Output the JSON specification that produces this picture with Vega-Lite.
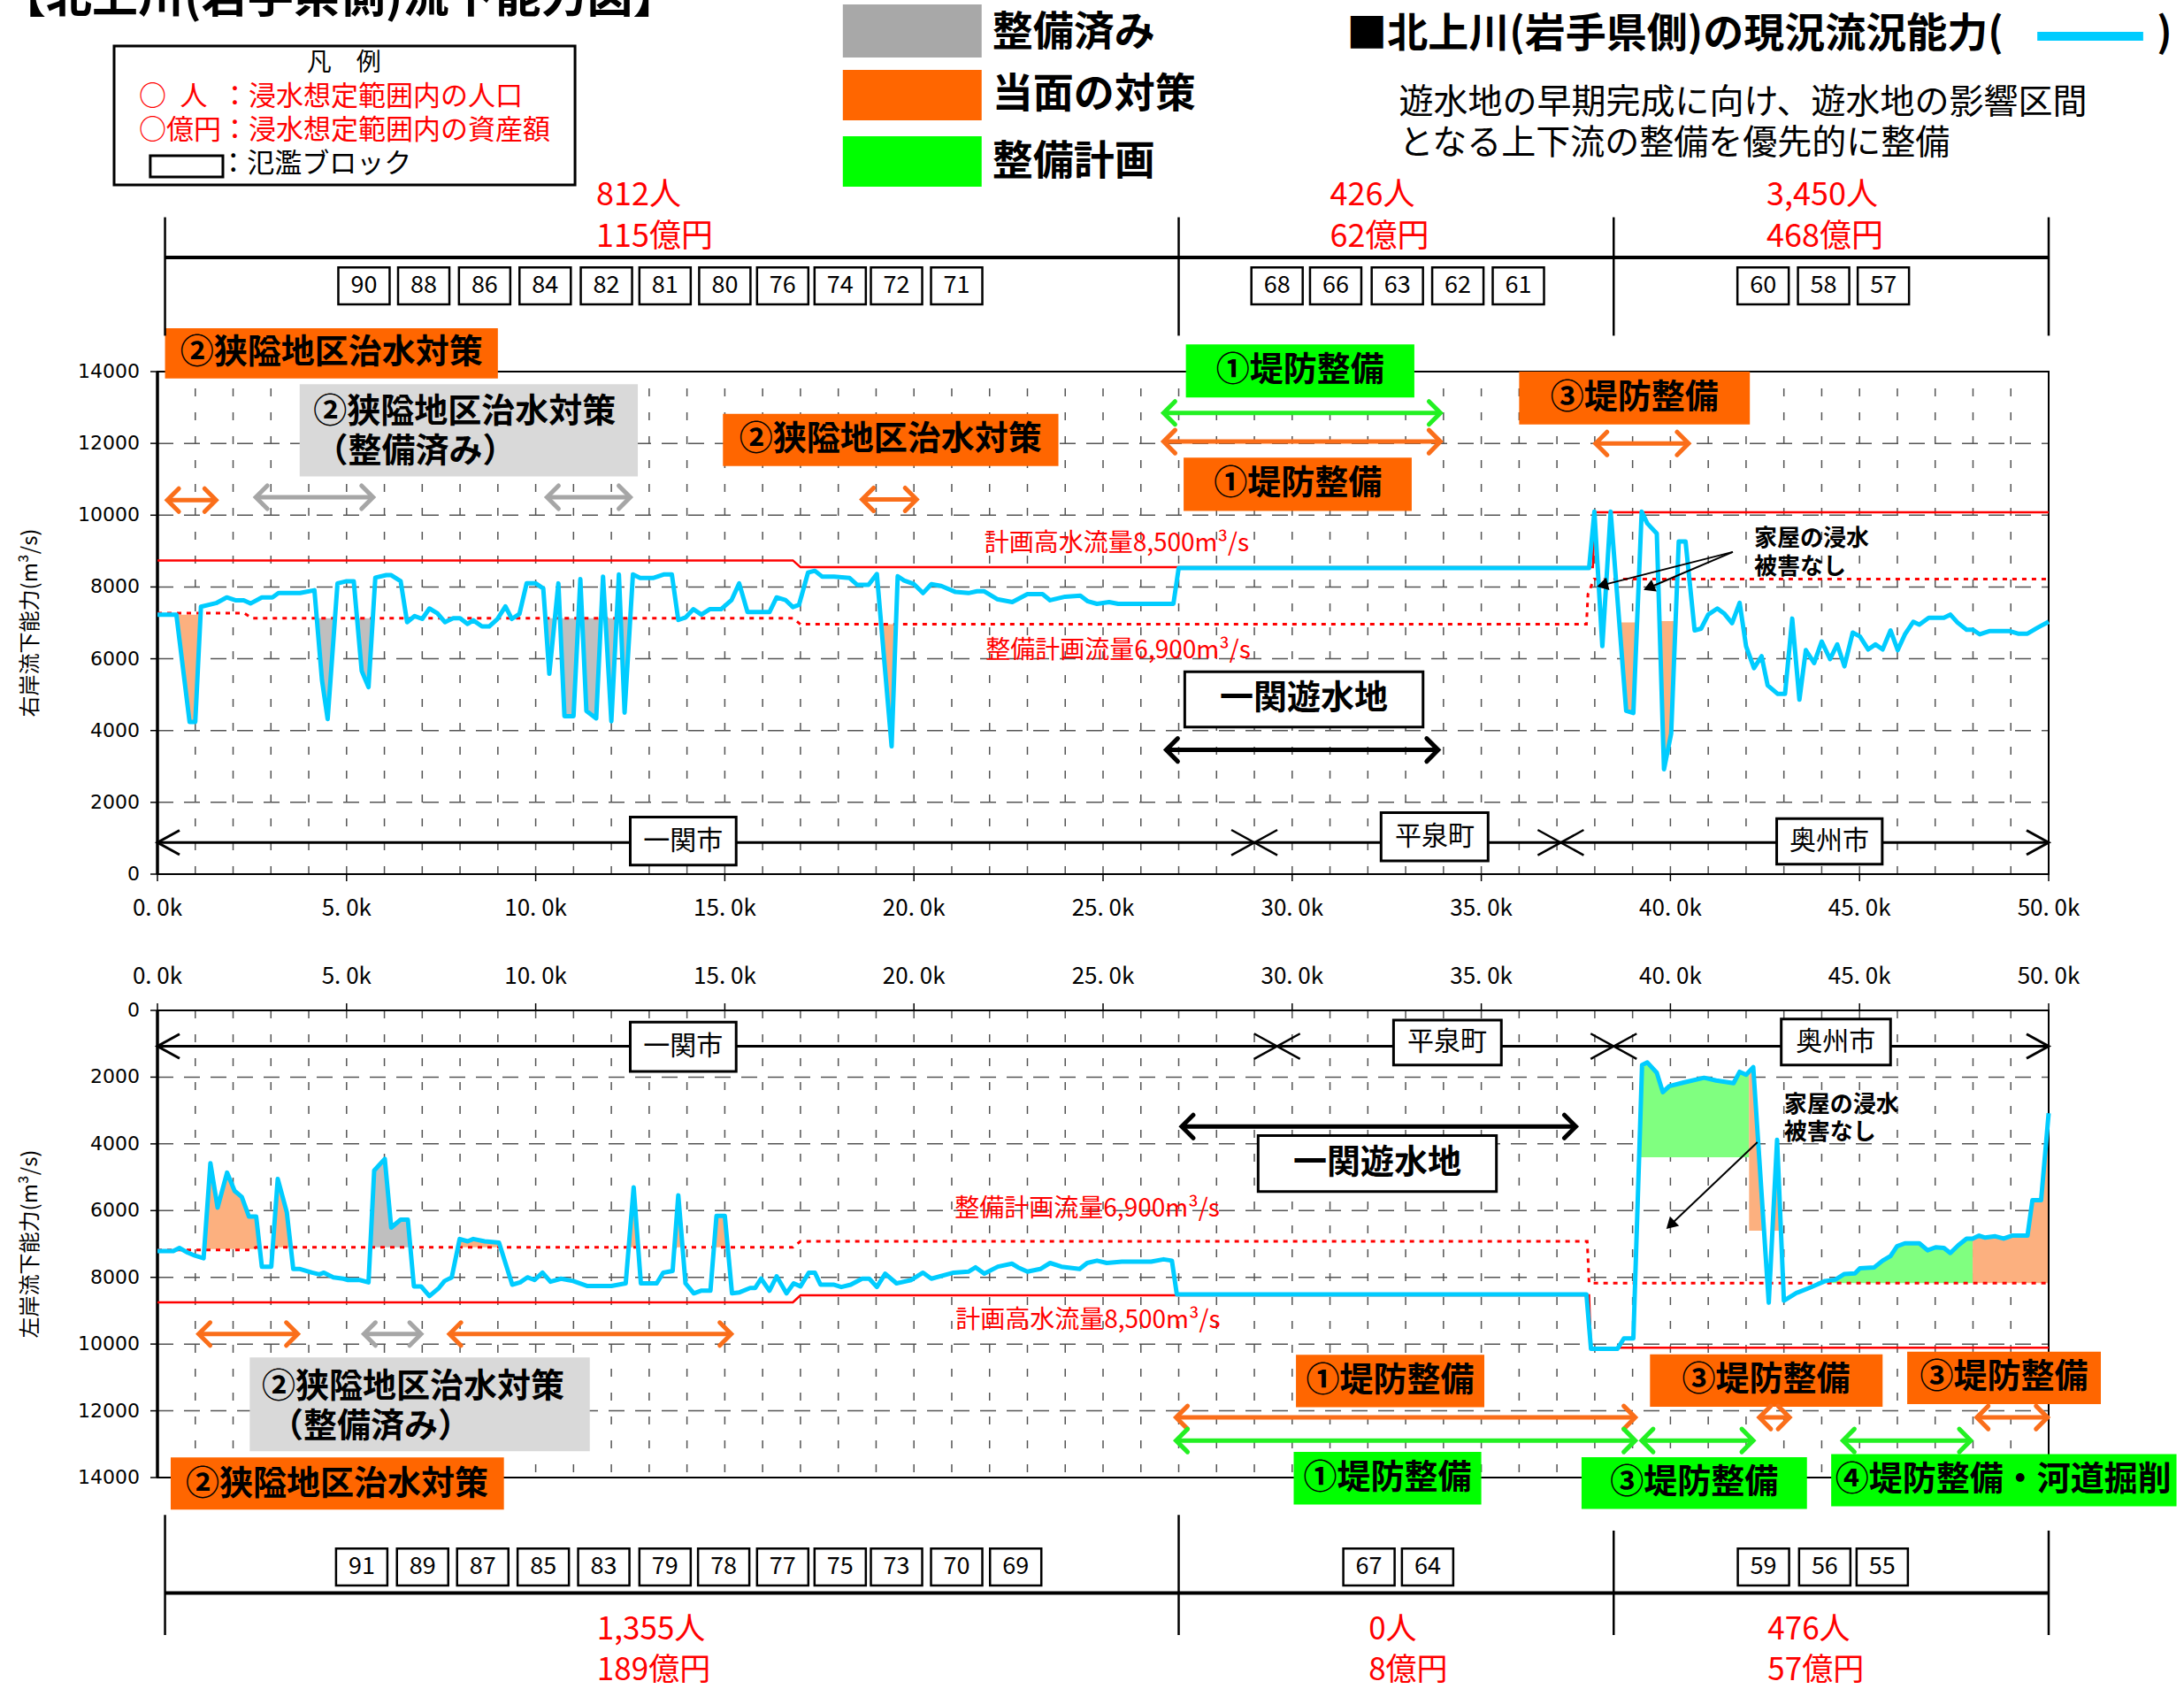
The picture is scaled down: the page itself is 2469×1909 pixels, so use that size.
{
"$schema":"https://vega.github.io/schema/vega-lite/v6.json",
"width":2469,"height":1909,
"autosize":{"type":"none"},
"padding":0,
"background":"white",
"config":{"font":"Noto Sans CJK JP","view":{"stroke":null}},
"resolve":{"scale":{"x":"independent","y":"independent"}},
"datasets":{
"frame":[{"x":0,"x2":50,"y":0,"y2":14000}],
"gx":[{"x":0,"y":0,"y2":14000},{"x":1,"y":0,"y2":14000},{"x":2,"y":0,"y2":14000},{"x":3,"y":0,"y2":14000},{"x":4,"y":0,"y2":14000},{"x":5,"y":0,"y2":14000},{"x":6,"y":0,"y2":14000},{"x":7,"y":0,"y2":14000},{"x":8,"y":0,"y2":14000},{"x":9,"y":0,"y2":14000},{"x":10,"y":0,"y2":14000},{"x":11,"y":0,"y2":14000},{"x":12,"y":0,"y2":14000},{"x":13,"y":0,"y2":14000},{"x":14,"y":0,"y2":14000},{"x":15,"y":0,"y2":14000},{"x":16,"y":0,"y2":14000},{"x":17,"y":0,"y2":14000},{"x":18,"y":0,"y2":14000},{"x":19,"y":0,"y2":14000},{"x":20,"y":0,"y2":14000},{"x":21,"y":0,"y2":14000},{"x":22,"y":0,"y2":14000},{"x":23,"y":0,"y2":14000},{"x":24,"y":0,"y2":14000},{"x":25,"y":0,"y2":14000},{"x":26,"y":0,"y2":14000},{"x":27,"y":0,"y2":14000},{"x":28,"y":0,"y2":14000},{"x":29,"y":0,"y2":14000},{"x":30,"y":0,"y2":14000},{"x":31,"y":0,"y2":14000},{"x":32,"y":0,"y2":14000},{"x":33,"y":0,"y2":14000},{"x":34,"y":0,"y2":14000},{"x":35,"y":0,"y2":14000},{"x":36,"y":0,"y2":14000},{"x":37,"y":0,"y2":14000},{"x":38,"y":0,"y2":14000},{"x":39,"y":0,"y2":14000},{"x":40,"y":0,"y2":14000},{"x":41,"y":0,"y2":14000},{"x":42,"y":0,"y2":14000},{"x":43,"y":0,"y2":14000},{"x":44,"y":0,"y2":14000},{"x":45,"y":0,"y2":14000},{"x":46,"y":0,"y2":14000},{"x":47,"y":0,"y2":14000},{"x":48,"y":0,"y2":14000},{"x":49,"y":0,"y2":14000},{"x":50,"y":0,"y2":14000}],
"gy":[{"y":0,"x":0,"x2":50},{"y":2000,"x":0,"x2":50},{"y":4000,"x":0,"x2":50},{"y":6000,"x":0,"x2":50},{"y":8000,"x":0,"x2":50},{"y":10000,"x":0,"x2":50},{"y":12000,"x":0,"x2":50},{"y":14000,"x":0,"x2":50}],
"xl":[{"x":0,"y":0,"t":"0. 0k"},{"x":5,"y":0,"t":"5. 0k"},{"x":10,"y":0,"t":"10. 0k"},{"x":15,"y":0,"t":"15. 0k"},{"x":20,"y":0,"t":"20. 0k"},{"x":25,"y":0,"t":"25. 0k"},{"x":30,"y":0,"t":"30. 0k"},{"x":35,"y":0,"t":"35. 0k"},{"x":40,"y":0,"t":"40. 0k"},{"x":45,"y":0,"t":"45. 0k"},{"x":50,"y":0,"t":"50. 0k"}],
"ytitle_top":[{"x":-3.34,"y":7000,"t":"右岸流下能力(m³/s)"}],
"ytitle_bot":[{"x":-3.34,"y":7000,"t":"左岸流下能力(m³/s)"}],
"line_top":[{"x":0,"y":7230},{"x":0.5,"y":7230},{"x":0.85,"y":4240},{"x":1.0,"y":4240},{"x":1.15,"y":7450},{"x":1.55,"y":7550},{"x":1.83,"y":7710},{"x":2.06,"y":7630},{"x":2.28,"y":7630},{"x":2.46,"y":7540},{"x":2.76,"y":7710},{"x":3.04,"y":7710},{"x":3.2,"y":7830},{"x":3.77,"y":7830},{"x":4.15,"y":7910},{"x":4.35,"y":5400},{"x":4.5,"y":4320},{"x":4.76,"y":8100},{"x":5.0,"y":8160},{"x":5.19,"y":8160},{"x":5.4,"y":5660},{"x":5.58,"y":5210},{"x":5.76,"y":8260},{"x":6.05,"y":8330},{"x":6.18,"y":8330},{"x":6.43,"y":8160},{"x":6.6,"y":7020},{"x":6.8,"y":7190},{"x":7.0,"y":7110},{"x":7.19,"y":7400},{"x":7.4,"y":7270},{"x":7.6,"y":7020},{"x":7.82,"y":7130},{"x":8.0,"y":7130},{"x":8.2,"y":6970},{"x":8.35,"y":7070},{"x":8.58,"y":6900},{"x":8.77,"y":6900},{"x":8.99,"y":7110},{"x":9.2,"y":7460},{"x":9.37,"y":7110},{"x":9.57,"y":7250},{"x":9.76,"y":8100},{"x":10.0,"y":8100},{"x":10.2,"y":7960},{"x":10.36,"y":5580},{"x":10.6,"y":8100},{"x":10.76,"y":4400},{"x":11.0,"y":4400},{"x":11.18,"y":8220},{"x":11.34,"y":4550},{"x":11.6,"y":4340},{"x":11.78,"y":8290},{"x":12.0,"y":4260},{"x":12.2,"y":8350},{"x":12.35,"y":4500},{"x":12.57,"y":8350},{"x":12.76,"y":8250},{"x":13.1,"y":8250},{"x":13.4,"y":8350},{"x":13.6,"y":8350},{"x":13.77,"y":7080},{"x":13.96,"y":7150},{"x":14.17,"y":7380},{"x":14.38,"y":7230},{"x":14.6,"y":7380},{"x":14.9,"y":7380},{"x":15.18,"y":7640},{"x":15.38,"y":8100},{"x":15.6,"y":7300},{"x":16.18,"y":7300},{"x":16.37,"y":7710},{"x":16.6,"y":7640},{"x":16.8,"y":7440},{"x":16.96,"y":7500},{"x":17.2,"y":8400},{"x":17.38,"y":8450},{"x":17.57,"y":8290},{"x":17.89,"y":8290},{"x":18.3,"y":8250},{"x":18.5,"y":8060},{"x":18.8,"y":8060},{"x":19.02,"y":8360},{"x":19.41,"y":3560},{"x":19.57,"y":8300},{"x":19.74,"y":8180},{"x":20.0,"y":8080},{"x":20.24,"y":7830},{"x":20.46,"y":8080},{"x":20.72,"y":8030},{"x":21.1,"y":7860},{"x":21.44,"y":7830},{"x":21.67,"y":7880},{"x":21.86,"y":7880},{"x":22.2,"y":7660},{"x":22.6,"y":7580},{"x":23.0,"y":7800},{"x":23.4,"y":7800},{"x":23.6,"y":7630},{"x":24.0,"y":7730},{"x":24.4,"y":7760},{"x":24.6,"y":7600},{"x":24.84,"y":7530},{"x":25.16,"y":7580},{"x":25.4,"y":7530},{"x":26.86,"y":7530},{"x":27.0,"y":8530},{"x":37.85,"y":8530},{"x":37.99,"y":10100},{"x":38.2,"y":6350},{"x":38.42,"y":10100},{"x":38.83,"y":4550},{"x":39.02,"y":4490},{"x":39.24,"y":10100},{"x":39.39,"y":9770},{"x":39.64,"y":9490},{"x":39.83,"y":2920},{"x":40.02,"y":3920},{"x":40.22,"y":9270},{"x":40.4,"y":9270},{"x":40.64,"y":6790},{"x":40.81,"y":6840},{"x":41.0,"y":7230},{"x":41.24,"y":7400},{"x":41.43,"y":7250},{"x":41.63,"y":6990},{"x":41.83,"y":7560},{"x":42.0,"y":6350},{"x":42.21,"y":5740},{"x":42.41,"y":6070},{"x":42.57,"y":5260},{"x":42.84,"y":5020},{"x":43.03,"y":5020},{"x":43.22,"y":7120},{"x":43.41,"y":4860},{"x":43.58,"y":6240},{"x":43.8,"y":5880},{"x":44.0,"y":6480},{"x":44.22,"y":5990},{"x":44.41,"y":6400},{"x":44.6,"y":5790},{"x":44.82,"y":6730},{"x":45.01,"y":6620},{"x":45.23,"y":6260},{"x":45.42,"y":6400},{"x":45.61,"y":6260},{"x":45.82,"y":6790},{"x":46.01,"y":6240},{"x":46.2,"y":6680},{"x":46.42,"y":7030},{"x":46.58,"y":6950},{"x":46.83,"y":7140},{"x":47.23,"y":7140},{"x":47.4,"y":7230},{"x":47.59,"y":7010},{"x":47.83,"y":6810},{"x":47.99,"y":6810},{"x":48.18,"y":6680},{"x":48.43,"y":6770},{"x":48.97,"y":6770},{"x":49.19,"y":6700},{"x":49.44,"y":6700},{"x":49.73,"y":6880},{"x":50.0,"y":7030}],
"plan_top":[{"x":0,"y":8740},{"x":16.8,"y":8740},{"x":17.0,"y":8550},{"x":37.95,"y":8550},{"x":38.0,"y":10080},{"x":50,"y":10080}],
"dot_top":[{"x":0,"y":7270},{"x":2.3,"y":7270},{"x":2.5,"y":7130},{"x":16.8,"y":7130},{"x":17.0,"y":6960},{"x":37.78,"y":6960},{"x":37.82,"y":7800},{"x":37.98,"y":8220},{"x":50,"y":8220}],
"fill_top":[
{"g":"t1","c":"当面の対策","x":0.5,"y":7230,"y2":7230},{"g":"t1","c":"当面の対策","x":0.85,"y":4240,"y2":7230},{"g":"t1","c":"当面の対策","x":1.0,"y":4240,"y2":7230},{"g":"t1","c":"当面の対策","x":1.14,"y":7230,"y2":7230},
{"g":"t2","c":"整備済み","x":4.21,"y":7130,"y2":7130},{"g":"t2","c":"整備済み","x":4.35,"y":5400,"y2":7130},{"g":"t2","c":"整備済み","x":4.5,"y":4320,"y2":7130},{"g":"t2","c":"整備済み","x":4.69,"y":7130,"y2":7130},
{"g":"t3","c":"整備済み","x":5.28,"y":7130,"y2":7130},{"g":"t3","c":"整備済み","x":5.4,"y":5660,"y2":7130},{"g":"t3","c":"整備済み","x":5.58,"y":5210,"y2":7130},{"g":"t3","c":"整備済み","x":5.69,"y":7130,"y2":7130},
{"g":"t4","c":"整備済み","x":10.26,"y":7130,"y2":7130},{"g":"t4","c":"整備済み","x":10.36,"y":5580,"y2":7130},{"g":"t4","c":"整備済み","x":10.51,"y":7130,"y2":7130},{"g":"t4","c":"整備済み","x":10.64,"y":7130,"y2":7130},{"g":"t4","c":"整備済み","x":10.76,"y":4400,"y2":7130},{"g":"t4","c":"整備済み","x":11.0,"y":4400,"y2":7130},{"g":"t4","c":"整備済み","x":11.13,"y":7130,"y2":7130},{"g":"t4","c":"整備済み","x":11.23,"y":7130,"y2":7130},{"g":"t4","c":"整備済み","x":11.34,"y":4550,"y2":7130},{"g":"t4","c":"整備済み","x":11.6,"y":4340,"y2":7130},{"g":"t4","c":"整備済み","x":11.73,"y":7130,"y2":7130},{"g":"t4","c":"整備済み","x":11.84,"y":7130,"y2":7130},{"g":"t4","c":"整備済み","x":12.0,"y":4260,"y2":7130},{"g":"t4","c":"整備済み","x":12.14,"y":7130,"y2":7130},{"g":"t4","c":"整備済み","x":12.25,"y":7130,"y2":7130},{"g":"t4","c":"整備済み","x":12.35,"y":4500,"y2":7130},{"g":"t4","c":"整備済み","x":12.5,"y":7130,"y2":7130},
{"g":"t5","c":"当面の対策","x":19.13,"y":6960,"y2":6960},{"g":"t5","c":"当面の対策","x":19.41,"y":3560,"y2":6960},{"g":"t5","c":"当面の対策","x":19.52,"y":6960,"y2":6960},
{"g":"t6","c":"当面の対策","x":38.65,"y":7010,"y2":7010},{"g":"t6","c":"当面の対策","x":38.83,"y":4550,"y2":7010},{"g":"t6","c":"当面の対策","x":39.02,"y":4490,"y2":7010},{"g":"t6","c":"当面の対策","x":39.12,"y":7010,"y2":7010},
{"g":"t7","c":"当面の対策","x":39.71,"y":7050,"y2":7050},{"g":"t7","c":"当面の対策","x":39.83,"y":2920,"y2":7050},{"g":"t7","c":"当面の対策","x":40.02,"y":3920,"y2":7050},{"g":"t7","c":"当面の対策","x":40.14,"y":7050,"y2":7050}],
"muni_top":[{"x":0,"x2":50,"y":880}],
"xmark_top":[{"x":29.0,"y":880},{"x":37.1,"y":880}],
"wbox_top":[{"x":27.16,"x2":33.46,"y":4100,"y2":5640},{"x":12.5,"x2":15.3,"y":250,"y2":1590},{"x":32.35,"x2":35.18,"y":370,"y2":1710},{"x":42.81,"x2":45.6,"y":275,"y2":1545},{"x":-1.146,"x2":11.04,"y":19201,"y2":23071},{"x":-0.19,"x2":1.73,"y":19423,"y2":20014}],
"cbox_top":[{"c":"当面の対策枠","x":0.2,"x2":9.0,"y":13810,"y2":15210},{"c":"整備済み枠","x":3.76,"x2":12.7,"y":11080,"y2":13650},{"c":"当面の対策枠","x":14.95,"x2":23.82,"y":11370,"y2":12820},{"c":"整備計画枠","x":27.19,"x2":33.23,"y":13280,"y2":14760},{"c":"当面の対策枠","x":27.13,"x2":33.16,"y":10120,"y2":11600},{"c":"当面の対策枠","x":36.0,"x2":42.1,"y":12530,"y2":14000},{"c":"整備済み凡例","x":18.12,"x2":21.79,"y":22750,"y2":24229},{"c":"当面の対策凡例","x":18.12,"x2":21.79,"y":21000,"y2":22405},{"c":"整備計画凡例","x":18.12,"x2":21.79,"y":19152,"y2":20556}],
"arrow_top":[{"c":"当面の対策矢印","x":0.26,"x2":1.55,"y":10420},{"c":"整備済み矢印","x":2.6,"x2":5.7,"y":10500},{"c":"整備済み矢印","x":10.3,"x2":12.5,"y":10500},{"c":"当面の対策矢印","x":18.63,"x2":20.07,"y":10440},{"c":"整備計画矢印","x":26.6,"x2":33.92,"y":12850},{"c":"当面の対策矢印","x":26.6,"x2":33.92,"y":12050},{"c":"当面の対策矢印","x":38.02,"x2":40.48,"y":12000},{"c":"遊水地矢印","x":26.67,"x2":33.86,"y":3460}],
"ptr_top":[{"id":1,"x":41.65,"y":8975,"x2":38.2,"y2":8050},{"id":2,"x":41.65,"y":8975,"x2":39.43,"y2":7980}],
"btxt_top":[{"x":4.6,"y":14510,"t":"②狭隘地区治水対策"},{"x":19.38,"y":12095,"t":"②狭隘地区治水対策"},{"x":30.21,"y":14020,"t":"①堤防整備"},{"x":30.15,"y":10860,"t":"①堤防整備"},{"x":39.05,"y":13265,"t":"③堤防整備"},{"x":30.31,"y":4870,"t":"一関遊水地"}],
"gtxt_top":[{"x":4.12,"y":12875,"t":"②狭隘地区治水対策"},{"x":4.15,"y":11746,"t":"（整備済み）"}],
"mtxt_top":[{"x":13.9,"y":920,"t":"一関市"},{"x":33.77,"y":1040,"t":"平泉町"},{"x":44.2,"y":910,"t":"奥州市"}],
"rtxt_top":[{"x":25.36,"y":9190,"t":"計画高水流量8,500m³/s"},{"x":25.4,"y":6220,"t":"整備計画流量6,900m³/s"}],
"kaoku_top":[{"x":42.21,"y":9330,"t":"家屋の浸水"},{"x":42.21,"y":8550,"t":"被害なし"}],
"hv_top":[{"x":0.2,"y":15000,"y2":18300},{"x":27.0,"y":15000,"y2":18300},{"x":38.5,"y":15000,"y2":18300},{"x":50.0,"y":15000,"y2":18300}],
"hh_top":[{"x":0.2,"x2":50,"y":17180}],
"blk_top":[{"x":5.46,"y":16390,"t":"90"},{"x":7.04,"y":16390,"t":"88"},{"x":8.65,"y":16390,"t":"86"},{"x":10.25,"y":16390,"t":"84"},{"x":11.87,"y":16390,"t":"82"},{"x":13.42,"y":16390,"t":"81"},{"x":15.0,"y":16390,"t":"80"},{"x":16.53,"y":16390,"t":"76"},{"x":18.05,"y":16390,"t":"74"},{"x":19.54,"y":16390,"t":"72"},{"x":21.13,"y":16390,"t":"71"},{"x":29.6,"y":16390,"t":"68"},{"x":31.15,"y":16390,"t":"66"},{"x":32.78,"y":16390,"t":"63"},{"x":34.38,"y":16390,"t":"62"},{"x":35.98,"y":16390,"t":"61"},{"x":42.45,"y":16390,"t":"60"},{"x":44.05,"y":16390,"t":"58"},{"x":45.63,"y":16390,"t":"57"}],
"pop_top":[{"x":11.6,"y":18905,"t":"812人"},{"x":11.6,"y":17747,"t":"115億円"},{"x":31.0,"y":18905,"t":"426人"},{"x":31.0,"y":17747,"t":"62億円"},{"x":42.54,"y":18905,"t":"3,450人"},{"x":42.54,"y":17747,"t":"468億円"}],
"lgd_center":[{"x":4.93,"y":22578,"t":"凡　例"}],
"lgd_red":[{"x":-0.49,"y":21641,"t":"○\u2002人\u2002：浸水想定範囲内の人口"},{"x":-0.49,"y":20704,"t":"○億円：浸水想定範囲内の資産額"}],
"lgd_black":[{"x":1.64,"y":19768,"t":"：氾濫ブロック"}],
"lgd_labels":[{"x":22.07,"y":23440,"t":"整備済み"},{"x":22.07,"y":21715,"t":"当面の対策"},{"x":22.07,"y":19840,"t":"整備計画"}],
"title":[{"x":-4.16,"y":24008,"t":"【北上川(岩手県側)流下能力図】"}],
"genkyo":[{"x":31.44,"y":23391,"t":"■北上川(岩手県側)の現況流況能力("},{"x":52.86,"y":23391,"t":")"}],
"cyan":[{"x":49.7,"x2":52.5,"y":23342}],
"desc":[{"x":32.82,"y":21493,"t":"遊水地の早期完成に向け、遊水地の影響区間"},{"x":32.82,"y":20360,"t":"となる上下流の整備を優先的に整備"}],
"line_bot":[{"x":0,"y":7210},{"x":0.42,"y":7210},{"x":0.58,"y":7120},{"x":0.8,"y":7260},{"x":0.99,"y":7350},{"x":1.22,"y":7430},{"x":1.4,"y":4580},{"x":1.59,"y":5910},{"x":1.84,"y":4860},{"x":2.04,"y":5410},{"x":2.23,"y":5590},{"x":2.42,"y":6180},{"x":2.61,"y":6180},{"x":2.76,"y":7680},{"x":3.01,"y":7680},{"x":3.18,"y":5050},{"x":3.42,"y":6050},{"x":3.59,"y":7750},{"x":3.77,"y":7750},{"x":4.09,"y":7860},{"x":4.28,"y":7910},{"x":4.4,"y":7860},{"x":4.65,"y":8000},{"x":4.91,"y":8040},{"x":5.04,"y":8080},{"x":5.35,"y":8080},{"x":5.58,"y":8150},{"x":5.73,"y":4800},{"x":6.01,"y":4450},{"x":6.18,"y":6510},{"x":6.43,"y":6270},{"x":6.62,"y":6270},{"x":6.78,"y":8270},{"x":6.97,"y":8270},{"x":7.19,"y":8560},{"x":7.44,"y":8320},{"x":7.59,"y":8110},{"x":7.78,"y":8000},{"x":7.99,"y":6850},{"x":8.2,"y":6920},{"x":8.35,"y":6850},{"x":8.65,"y":6920},{"x":9.03,"y":6960},{"x":9.38,"y":8220},{"x":9.59,"y":8150},{"x":9.78,"y":8000},{"x":9.97,"y":8080},{"x":10.18,"y":7860},{"x":10.39,"y":8130},{"x":10.67,"y":8040},{"x":10.99,"y":8110},{"x":11.37,"y":8260},{"x":12.0,"y":8260},{"x":12.38,"y":8180},{"x":12.59,"y":5300},{"x":12.78,"y":8180},{"x":13.2,"y":8180},{"x":13.37,"y":7860},{"x":13.62,"y":7810},{"x":13.77,"y":5540},{"x":13.96,"y":8180},{"x":14.18,"y":8480},{"x":14.37,"y":8400},{"x":14.62,"y":8400},{"x":14.78,"y":6160},{"x":15.0,"y":6160},{"x":15.19,"y":8480},{"x":15.39,"y":8450},{"x":15.67,"y":8320},{"x":15.8,"y":8320},{"x":15.96,"y":8040},{"x":16.18,"y":8400},{"x":16.37,"y":7970},{"x":16.63,"y":8480},{"x":16.82,"y":8180},{"x":17.0,"y":8270},{"x":17.22,"y":7860},{"x":17.38,"y":7860},{"x":17.53,"y":8220},{"x":17.89,"y":8220},{"x":18.08,"y":8290},{"x":18.33,"y":8220},{"x":18.63,"y":8040},{"x":18.82,"y":8040},{"x":19.02,"y":8290},{"x":19.24,"y":7890},{"x":19.54,"y":8180},{"x":19.93,"y":8080},{"x":20.24,"y":7860},{"x":20.46,"y":8040},{"x":21.05,"y":7860},{"x":21.44,"y":7830},{"x":21.63,"y":7700},{"x":21.86,"y":7890},{"x":22.22,"y":7680},{"x":22.59,"y":7590},{"x":22.75,"y":7700},{"x":23.0,"y":7830},{"x":23.34,"y":7750},{"x":23.6,"y":7570},{"x":23.9,"y":7680},{"x":24.38,"y":7750},{"x":24.58,"y":7570},{"x":24.84,"y":7500},{"x":25.1,"y":7570},{"x":25.5,"y":7530},{"x":26.27,"y":7530},{"x":26.6,"y":7460},{"x":26.82,"y":7500},{"x":26.95,"y":8510},{"x":37.78,"y":8510},{"x":37.9,"y":10140},{"x":38.6,"y":10140},{"x":38.77,"y":9830},{"x":39.02,"y":9830},{"x":39.25,"y":1640},{"x":39.39,"y":1560},{"x":39.64,"y":1870},{"x":39.8,"y":2450},{"x":39.97,"y":2270},{"x":40.35,"y":2160},{"x":40.89,"y":2020},{"x":41.21,"y":2100},{"x":41.67,"y":2180},{"x":41.83,"y":1840},{"x":42.0,"y":1930},{"x":42.19,"y":1700},{"x":42.6,"y":8760},{"x":42.82,"y":3880},{"x":43.0,"y":8700},{"x":43.33,"y":8470},{"x":43.71,"y":8300},{"x":44.09,"y":8110},{"x":44.36,"y":8070},{"x":44.6,"y":7900},{"x":44.88,"y":7880},{"x":45.01,"y":7730},{"x":45.39,"y":7700},{"x":45.61,"y":7500},{"x":45.82,"y":7360},{"x":45.99,"y":7070},{"x":46.2,"y":6980},{"x":46.58,"y":6980},{"x":46.8,"y":7190},{"x":47.01,"y":7100},{"x":47.23,"y":7120},{"x":47.4,"y":7270},{"x":47.61,"y":7040},{"x":47.83,"y":6840},{"x":47.99,"y":6840},{"x":48.16,"y":6750},{"x":48.32,"y":6810},{"x":48.59,"y":6770},{"x":48.81,"y":6840},{"x":49.03,"y":6750},{"x":49.44,"y":6750},{"x":49.57,"y":5690},{"x":49.8,"y":5690},{"x":50.0,"y":3080}],
"plan_bot":[{"x":0,"y":8750},{"x":16.8,"y":8750},{"x":17.0,"y":8540},{"x":37.85,"y":8540},{"x":37.9,"y":10110},{"x":50,"y":10110}],
"dot_bot":[{"x":0,"y":7180},{"x":2.5,"y":7180},{"x":2.6,"y":7100},{"x":16.8,"y":7100},{"x":17.0,"y":6920},{"x":37.8,"y":6920},{"x":37.85,"y":8170},{"x":50,"y":8170}],
"fill_bot":[
{"g":"b1","c":"当面の対策","x":1.24,"y":7150,"y2":7150},{"g":"b1","c":"当面の対策","x":1.4,"y":4580,"y2":7150},{"g":"b1","c":"当面の対策","x":1.59,"y":5910,"y2":7150},{"g":"b1","c":"当面の対策","x":1.84,"y":4860,"y2":7150},{"g":"b1","c":"当面の対策","x":2.04,"y":5410,"y2":7150},{"g":"b1","c":"当面の対策","x":2.23,"y":5590,"y2":7150},{"g":"b1","c":"当面の対策","x":2.42,"y":6180,"y2":7150},{"g":"b1","c":"当面の対策","x":2.61,"y":6180,"y2":7150},{"g":"b1","c":"当面の対策","x":2.7,"y":7150,"y2":7150},
{"g":"b2","c":"当面の対策","x":3.05,"y":7100,"y2":7100},{"g":"b2","c":"当面の対策","x":3.18,"y":5050,"y2":7100},{"g":"b2","c":"当面の対策","x":3.42,"y":6050,"y2":7100},{"g":"b2","c":"当面の対策","x":3.52,"y":7100,"y2":7100},
{"g":"b3","c":"整備済み","x":5.63,"y":7100,"y2":7100},{"g":"b3","c":"整備済み","x":5.73,"y":4800,"y2":7100},{"g":"b3","c":"整備済み","x":6.01,"y":4450,"y2":7100},{"g":"b3","c":"整備済み","x":6.18,"y":6510,"y2":7100},{"g":"b3","c":"整備済み","x":6.43,"y":6270,"y2":7100},{"g":"b3","c":"整備済み","x":6.62,"y":6270,"y2":7100},{"g":"b3","c":"整備済み","x":6.69,"y":7100,"y2":7100},
{"g":"b4","c":"当面の対策","x":7.94,"y":7100,"y2":7100},{"g":"b4","c":"当面の対策","x":7.99,"y":6850,"y2":7100},{"g":"b4","c":"当面の対策","x":8.2,"y":6920,"y2":7100},{"g":"b4","c":"当面の対策","x":8.35,"y":6850,"y2":7100},{"g":"b4","c":"当面の対策","x":8.65,"y":6920,"y2":7100},{"g":"b4","c":"当面の対策","x":9.03,"y":6960,"y2":7100},{"g":"b4","c":"当面の対策","x":9.08,"y":7100,"y2":7100},
{"g":"b5","c":"当面の対策","x":12.46,"y":7100,"y2":7100},{"g":"b5","c":"当面の対策","x":12.59,"y":5300,"y2":7100},{"g":"b5","c":"当面の対策","x":12.71,"y":7100,"y2":7100},
{"g":"b6","c":"当面の対策","x":13.67,"y":7100,"y2":7100},{"g":"b6","c":"当面の対策","x":13.77,"y":5540,"y2":7100},{"g":"b6","c":"当面の対策","x":13.88,"y":7100,"y2":7100},
{"g":"b7","c":"当面の対策","x":14.71,"y":7100,"y2":7100},{"g":"b7","c":"当面の対策","x":14.78,"y":6160,"y2":7100},{"g":"b7","c":"当面の対策","x":15.0,"y":6160,"y2":7100},{"g":"b7","c":"当面の対策","x":15.08,"y":7100,"y2":7100},
{"g":"b8","c":"整備計画","x":39.18,"y":4400,"y2":4400},{"g":"b8","c":"整備計画","x":39.25,"y":1640,"y2":4400},{"g":"b8","c":"整備計画","x":39.39,"y":1560,"y2":4400},{"g":"b8","c":"整備計画","x":39.64,"y":1870,"y2":4400},{"g":"b8","c":"整備計画","x":39.8,"y":2450,"y2":4400},{"g":"b8","c":"整備計画","x":39.97,"y":2270,"y2":4400},{"g":"b8","c":"整備計画","x":40.35,"y":2160,"y2":4400},{"g":"b8","c":"整備計画","x":40.89,"y":2020,"y2":4400},{"g":"b8","c":"整備計画","x":41.21,"y":2100,"y2":4400},{"g":"b8","c":"整備計画","x":41.67,"y":2180,"y2":4400},{"g":"b8","c":"整備計画","x":41.83,"y":1840,"y2":4400},{"g":"b8","c":"整備計画","x":42.0,"y":1930,"y2":4400},{"g":"b8","c":"整備計画","x":42.08,"y":1830,"y2":4400},
{"g":"b9","c":"当面の対策","x":42.08,"y":1830,"y2":6600},{"g":"b9","c":"当面の対策","x":42.19,"y":1700,"y2":6600},{"g":"b9","c":"当面の対策","x":42.47,"y":6600,"y2":6600},
{"g":"b10","c":"当面の対策","x":42.7,"y":6600,"y2":6600},{"g":"b10","c":"当面の対策","x":42.82,"y":3880,"y2":6600},{"g":"b10","c":"当面の対策","x":42.92,"y":6600,"y2":6600},
{"g":"b11","c":"整備計画","x":43.95,"y":8170,"y2":8170},{"g":"b11","c":"整備計画","x":44.09,"y":8110,"y2":8170},{"g":"b11","c":"整備計画","x":44.36,"y":8070,"y2":8170},{"g":"b11","c":"整備計画","x":44.6,"y":7900,"y2":8170},{"g":"b11","c":"整備計画","x":44.88,"y":7880,"y2":8170},{"g":"b11","c":"整備計画","x":45.01,"y":7730,"y2":8170},{"g":"b11","c":"整備計画","x":45.39,"y":7700,"y2":8170},{"g":"b11","c":"整備計画","x":45.61,"y":7500,"y2":8170},{"g":"b11","c":"整備計画","x":45.82,"y":7360,"y2":8170},{"g":"b11","c":"整備計画","x":45.99,"y":7070,"y2":8170},{"g":"b11","c":"整備計画","x":46.2,"y":6980,"y2":8170},{"g":"b11","c":"整備計画","x":46.58,"y":6980,"y2":8170},{"g":"b11","c":"整備計画","x":46.8,"y":7190,"y2":8170},{"g":"b11","c":"整備計画","x":47.01,"y":7100,"y2":8170},{"g":"b11","c":"整備計画","x":47.23,"y":7120,"y2":8170},{"g":"b11","c":"整備計画","x":47.4,"y":7270,"y2":8170},{"g":"b11","c":"整備計画","x":47.61,"y":7040,"y2":8170},{"g":"b11","c":"整備計画","x":47.83,"y":6840,"y2":8170},{"g":"b11","c":"整備計画","x":47.99,"y":6840,"y2":8170},
{"g":"b12","c":"当面の対策","x":47.99,"y":6840,"y2":8170},{"g":"b12","c":"当面の対策","x":48.16,"y":6750,"y2":8170},{"g":"b12","c":"当面の対策","x":48.32,"y":6810,"y2":8170},{"g":"b12","c":"当面の対策","x":48.59,"y":6770,"y2":8170},{"g":"b12","c":"当面の対策","x":48.81,"y":6840,"y2":8170},{"g":"b12","c":"当面の対策","x":49.03,"y":6750,"y2":8170},{"g":"b12","c":"当面の対策","x":49.44,"y":6750,"y2":8170},{"g":"b12","c":"当面の対策","x":49.57,"y":5690,"y2":8170},{"g":"b12","c":"当面の対策","x":49.8,"y":5690,"y2":8170},{"g":"b12","c":"当面の対策","x":50.0,"y":3080,"y2":8170}],
"muni_bot":[{"x":0,"x2":50,"y":1075}],
"xmark_bot":[{"x":29.6,"y":1075},{"x":38.5,"y":1075}],
"wbox_bot":[{"x":29.1,"x2":35.4,"y":3750,"y2":5430},{"x":12.5,"x2":15.3,"y":350,"y2":1830},{"x":32.68,"x2":35.53,"y":290,"y2":1640},{"x":42.93,"x2":45.82,"y":260,"y2":1640}],
"cbox_bot":[{"c":"整備済み枠","x":2.44,"x2":11.43,"y":10400,"y2":13210},{"c":"当面の対策枠","x":0.35,"x2":9.16,"y":13400,"y2":14960},{"c":"当面の対策枠","x":30.1,"x2":35.08,"y":10320,"y2":11890},{"c":"整備計画枠","x":30.04,"x2":35.0,"y":13230,"y2":14810},{"c":"当面の対策枠","x":39.46,"x2":45.61,"y":10310,"y2":11880},{"c":"当面の対策枠","x":46.26,"x2":51.38,"y":10230,"y2":11800},{"c":"整備計画枠","x":37.65,"x2":43.61,"y":13390,"y2":14940},{"c":"整備計画枠","x":44.25,"x2":53.38,"y":13300,"y2":14860}],
"arrow_bot":[{"c":"当面の対策矢印","x":1.09,"x2":3.71,"y":9700},{"c":"整備済み矢印","x":5.46,"x2":6.97,"y":9700},{"c":"当面の対策矢印","x":7.72,"x2":15.17,"y":9700},{"c":"遊水地矢印","x":27.08,"x2":37.5,"y":3480},{"c":"当面の対策矢印","x":26.93,"x2":39.07,"y":12200},{"c":"整備計画矢印","x":26.93,"x2":39.07,"y":12890},{"c":"整備計画矢印","x":39.24,"x2":42.19,"y":12890},{"c":"当面の対策矢印","x":42.35,"x2":43.15,"y":12200},{"c":"整備計画矢印","x":44.56,"x2":47.94,"y":12890},{"c":"当面の対策矢印","x":48.1,"x2":49.97,"y":12200}],
"ptr_bot":[{"id":1,"x":42.3,"y":3950,"x2":40.0,"y2":6430}],
"btxt_bot":[{"x":4.75,"y":14200,"t":"②狭隘地区治水対策"},{"x":32.59,"y":11100,"t":"①堤防整備"},{"x":32.52,"y":14020,"t":"①堤防整備"},{"x":42.53,"y":11095,"t":"③堤防整備"},{"x":48.82,"y":11015,"t":"③堤防整備"},{"x":40.63,"y":14165,"t":"③堤防整備"},{"x":48.8,"y":14080,"t":"④堤防整備・河道掘削"},{"x":32.25,"y":4590,"t":"一関遊水地"}],
"gtxt_bot":[{"x":2.76,"y":11290,"t":"②狭隘地区治水対策"},{"x":2.97,"y":12500,"t":"（整備済み）"}],
"mtxt_bot":[{"x":13.9,"y":1090,"t":"一関市"},{"x":34.1,"y":965,"t":"平泉町"},{"x":44.37,"y":950,"t":"奥州市"}],
"rtxt_bot":[{"x":24.58,"y":5970,"t":"整備計画流量6,900m³/s"},{"x":24.6,"y":9320,"t":"計画高水流量8,500m³/s"}],
"kaoku_bot":[{"x":43.0,"y":2850,"t":"家屋の浸水"},{"x":43.0,"y":3650,"t":"被害なし"}],
"hv_bot":[{"x":0.2,"y":15120,"y2":18720},{"x":27.0,"y":15120,"y2":18720},{"x":38.5,"y":15590,"y2":18720},{"x":50.0,"y":15590,"y2":18720}],
"hh_bot":[{"x":0.2,"x2":50,"y":17460}],
"blk_bot":[{"x":5.4,"y":16680,"t":"91"},{"x":7.01,"y":16680,"t":"89"},{"x":8.6,"y":16680,"t":"87"},{"x":10.2,"y":16680,"t":"85"},{"x":11.8,"y":16680,"t":"83"},{"x":13.42,"y":16680,"t":"79"},{"x":14.97,"y":16680,"t":"78"},{"x":16.53,"y":16680,"t":"77"},{"x":18.05,"y":16680,"t":"75"},{"x":19.54,"y":16680,"t":"73"},{"x":21.13,"y":16680,"t":"70"},{"x":22.69,"y":16680,"t":"69"},{"x":32.03,"y":16680,"t":"67"},{"x":33.58,"y":16680,"t":"64"},{"x":42.46,"y":16680,"t":"59"},{"x":44.08,"y":16680,"t":"56"},{"x":45.6,"y":16680,"t":"55"}],
"pop_bot":[{"x":11.62,"y":18560,"t":"1,355人"},{"x":11.62,"y":19780,"t":"189億円"},{"x":32.02,"y":18560,"t":"0人"},{"x":32.02,"y":19780,"t":"8億円"},{"x":42.57,"y":18560,"t":"476人"},{"x":42.57,"y":19780,"t":"57億円"}]
},
"layer":[
{
"encoding":{
"x":{"field":"x","type":"quantitative","scale":{"domain":[0,50],"range":[178,2316],"nice":false,"zero":false},"axis":null},
"y":{"field":"y","type":"quantitative","stack":null,"scale":{"domain":[0,14000],"range":[988,420],"nice":false,"zero":false},"axis":null}
},
"layer":[
{"data":{"name":"gx"},"mark":{"type":"rule","color":"#555555","strokeWidth":1.5,"strokeDash":[9,18]},"encoding":{"y2":{"field":"y2"}}},
{"data":{"name":"gy"},"mark":{"type":"rule","color":"#555555","strokeWidth":1.5,"strokeDash":[18,12]},"encoding":{"x2":{"field":"x2"}}},
{"data":{"name":"xl"},"mark":{"type":"rule","color":"black","strokeWidth":1.5,"y2Offset":8},"encoding":{"y2":{"field":"y"}}},
{"data":{"name":"xl"},"mark":{"type":"text","fontSize":26,"color":"black","dy":39},"encoding":{"text":{"field":"t"}}},
{"data":{"name":"gy"},"mark":{"type":"rule","color":"black","strokeWidth":1.5,"x2Offset":-8},"encoding":{"x2":{"field":"x"}}},
{"data":{"name":"gy"},"mark":{"type":"text","font":"DejaVu Sans","fontSize":22,"color":"black","align":"right","dx":-20},"encoding":{"text":{"field":"y","type":"quantitative","format":"d"}}},
{"data":{"name":"ytitle_top"},"mark":{"type":"text","fontSize":24,"color":"black","angle":270},"encoding":{"text":{"field":"t"}}},
{"data":{"name":"fill_top"},"mark":{"type":"area","opacity":1},"encoding":{"y2":{"field":"y2"},"detail":{"field":"g","type":"nominal"},"color":{"field":"c","type":"nominal","legend":null,"scale":{"domain":["整備済み","当面の対策","整備計画","整備済み枠","当面の対策枠","整備計画枠","整備済み矢印","当面の対策矢印","整備計画矢印","遊水地矢印","整備済み凡例","当面の対策凡例","整備計画凡例"],"range":["#bfbfbf","#fcb07f","#80ff80","#d9d9d9","#ff6600","#00ff00","#a6a6a6","#fa6e1a","#22f022","#000000","#a8a8a8","#ff6600","#00ff00"]}}}},
{"data":{"name":"frame"},"mark":{"type":"rect","fillOpacity":0,"stroke":"black","strokeWidth":2},"encoding":{"x2":{"field":"x2"},"y2":{"field":"y2"}}},
{"data":{"name":"frame"},"mark":{"type":"rule","color":"black","strokeWidth":3.5},"encoding":{"y2":{"field":"y2"}}},
{"data":{"name":"plan_top"},"mark":{"type":"line","color":"#ff0000","strokeWidth":2.5},"encoding":{}},
{"data":{"name":"dot_top"},"mark":{"type":"line","color":"#ff0000","strokeWidth":3,"strokeDash":[5,6]},"encoding":{}},
{"data":{"name":"line_top"},"mark":{"type":"line","color":"#00ccff","strokeWidth":5,"strokeJoin":"round"},"encoding":{}},
{"data":{"name":"muni_top"},"mark":{"type":"rule","color":"black","strokeWidth":3},"encoding":{"x2":{"field":"x2"}}},
{"data":{"name":"muni_top"},"mark":{"type":"point","shape":"M2,-1.1L0,0L2,1.1","size":625,"filled":false,"color":"black","strokeWidth":3,"opacity":1},"encoding":{}},
{"data":{"name":"muni_top"},"mark":{"type":"point","shape":"M-2,-1.1L0,0L-2,1.1","size":625,"filled":false,"color":"black","strokeWidth":3,"opacity":1},"encoding":{"x":{"field":"x2","type":"quantitative","scale":{"domain":[0,50],"range":[178,2316],"nice":false,"zero":false},"axis":null}}},
{"data":{"name":"xmark_top"},"mark":{"type":"point","shape":"M-1,-0.55L1,0.55M-1,0.55L1,-0.55","size":2704,"filled":false,"color":"black","strokeWidth":2.5,"opacity":1},"encoding":{}},
{"data":{"name":"wbox_top"},"mark":{"type":"rect","fill":"white","stroke":"black","strokeWidth":3},"encoding":{"x2":{"field":"x2"},"y2":{"field":"y2"}}},
{"data":{"name":"cbox_top"},"mark":{"type":"rect","opacity":1},"encoding":{"x2":{"field":"x2"},"y2":{"field":"y2"},"color":{"field":"c","type":"nominal","legend":null,"scale":{"domain":["整備済み","当面の対策","整備計画","整備済み枠","当面の対策枠","整備計画枠","整備済み矢印","当面の対策矢印","整備計画矢印","遊水地矢印","整備済み凡例","当面の対策凡例","整備計画凡例"],"range":["#bfbfbf","#fcb07f","#80ff80","#d9d9d9","#ff6600","#00ff00","#a6a6a6","#fa6e1a","#22f022","#000000","#a8a8a8","#ff6600","#00ff00"]}}}},
{"data":{"name":"arrow_top"},"mark":{"type":"rule","strokeWidth":5},"encoding":{"x2":{"field":"x2"},"color":{"field":"c","type":"nominal","legend":null,"scale":{"domain":["整備済み","当面の対策","整備計画","整備済み枠","当面の対策枠","整備計画枠","整備済み矢印","当面の対策矢印","整備計画矢印","遊水地矢印","整備済み凡例","当面の対策凡例","整備計画凡例"],"range":["#bfbfbf","#fcb07f","#80ff80","#d9d9d9","#ff6600","#00ff00","#a6a6a6","#fa6e1a","#22f022","#000000","#a8a8a8","#ff6600","#00ff00"]}}}},
{"data":{"name":"arrow_top"},"mark":{"type":"point","shape":"M1,-1L0,0L1,1","size":676,"filled":false,"strokeWidth":5,"strokeCap":"round","opacity":1},"encoding":{"color":{"field":"c","type":"nominal","legend":null,"scale":{"domain":["整備済み","当面の対策","整備計画","整備済み枠","当面の対策枠","整備計画枠","整備済み矢印","当面の対策矢印","整備計画矢印","遊水地矢印","整備済み凡例","当面の対策凡例","整備計画凡例"],"range":["#bfbfbf","#fcb07f","#80ff80","#d9d9d9","#ff6600","#00ff00","#a6a6a6","#fa6e1a","#22f022","#000000","#a8a8a8","#ff6600","#00ff00"]}}}},
{"data":{"name":"arrow_top"},"mark":{"type":"point","shape":"M-1,-1L0,0L-1,1","size":676,"filled":false,"strokeWidth":5,"strokeCap":"round","opacity":1},"encoding":{"x":{"field":"x2","type":"quantitative","scale":{"domain":[0,50],"range":[178,2316],"nice":false,"zero":false},"axis":null},"color":{"field":"c","type":"nominal","legend":null,"scale":{"domain":["整備済み","当面の対策","整備計画","整備済み枠","当面の対策枠","整備計画枠","整備済み矢印","当面の対策矢印","整備計画矢印","遊水地矢印","整備済み凡例","当面の対策凡例","整備計画凡例"],"range":["#bfbfbf","#fcb07f","#80ff80","#d9d9d9","#ff6600","#00ff00","#a6a6a6","#fa6e1a","#22f022","#000000","#a8a8a8","#ff6600","#00ff00"]}}}},
{"data":{"name":"ptr_top"},"mark":{"type":"rule","color":"black","strokeWidth":2},"encoding":{"x2":{"field":"x2"},"y2":{"field":"y2"}}},
{"data":{"name":"ptr_top"},"transform":[{"filter":"datum.id === 1"}],"mark":{"type":"point","shape":"triangle-up","size":220,"filled":true,"color":"black","opacity":1,"angle":256},"encoding":{"x":{"field":"x2","type":"quantitative","scale":{"domain":[0,50],"range":[178,2316],"nice":false,"zero":false},"axis":null},"y":{"field":"y2","type":"quantitative","scale":{"domain":[0,14000],"range":[988,420],"nice":false,"zero":false},"axis":null}}},
{"data":{"name":"ptr_top"},"transform":[{"filter":"datum.id === 2"}],"mark":{"type":"point","shape":"triangle-up","size":220,"filled":true,"color":"black","opacity":1,"angle":247},"encoding":{"x":{"field":"x2","type":"quantitative","scale":{"domain":[0,50],"range":[178,2316],"nice":false,"zero":false},"axis":null},"y":{"field":"y2","type":"quantitative","scale":{"domain":[0,14000],"range":[988,420],"nice":false,"zero":false},"axis":null}}},
{"data":{"name":"btxt_top"},"mark":{"type":"text","fontSize":38,"fontWeight":"bold","color":"black"},"encoding":{"text":{"field":"t"}}},
{"data":{"name":"gtxt_top"},"mark":{"type":"text","fontSize":38,"fontWeight":"bold","color":"black","align":"left"},"encoding":{"text":{"field":"t"}}},
{"data":{"name":"mtxt_top"},"mark":{"type":"text","fontSize":30,"color":"black"},"encoding":{"text":{"field":"t"}}},
{"data":{"name":"rtxt_top"},"mark":{"type":"text","fontSize":28,"color":"#ff0000"},"encoding":{"text":{"field":"t"}}},
{"data":{"name":"kaoku_top"},"mark":{"type":"text","fontSize":26,"fontWeight":"bold","color":"black","align":"left"},"encoding":{"text":{"field":"t"}}},
{"data":{"name":"hv_top"},"mark":{"type":"rule","color":"black","strokeWidth":2.5},"encoding":{"y2":{"field":"y2"}}},
{"data":{"name":"hh_top"},"mark":{"type":"rule","color":"black","strokeWidth":4},"encoding":{"x2":{"field":"x2"}}},
{"data":{"name":"blk_top"},"mark":{"type":"point","shape":"M-1,-0.72L1,-0.72L1,0.72L-1,0.72Z","size":3364,"filled":true,"fill":"white","stroke":"black","strokeWidth":2.5,"opacity":1},"encoding":{}},
{"data":{"name":"blk_top"},"mark":{"type":"text","fontSize":27,"color":"black"},"encoding":{"text":{"field":"t"}}},
{"data":{"name":"pop_top"},"mark":{"type":"text","fontSize":36,"color":"#ff0000","align":"left"},"encoding":{"text":{"field":"t"}}},
{"data":{"name":"lgd_center"},"mark":{"type":"text","fontSize":28,"color":"black"},"encoding":{"text":{"field":"t"}}},
{"data":{"name":"lgd_red"},"mark":{"type":"text","fontSize":31,"color":"#ff0000","align":"left"},"encoding":{"text":{"field":"t"}}},
{"data":{"name":"lgd_black"},"mark":{"type":"text","fontSize":31,"color":"black","align":"left"},"encoding":{"text":{"field":"t"}}},
{"data":{"name":"lgd_labels"},"mark":{"type":"text","fontSize":46,"fontWeight":"bold","color":"black","align":"left"},"encoding":{"text":{"field":"t"}}},
{"data":{"name":"title"},"mark":{"type":"text","fontSize":52,"fontWeight":"bold","color":"black","align":"left","baseline":"alphabetic"},"encoding":{"text":{"field":"t"}}},
{"data":{"name":"genkyo"},"mark":{"type":"text","fontSize":46,"fontWeight":"bold","color":"black","align":"left"},"encoding":{"text":{"field":"t"}}},
{"data":{"name":"cyan"},"mark":{"type":"rule","color":"#00ccff","strokeWidth":10},"encoding":{"x2":{"field":"x2"}}},
{"data":{"name":"desc"},"mark":{"type":"text","fontSize":39,"color":"black","align":"left"},"encoding":{"text":{"field":"t"}}}
]
},
{
"encoding":{
"x":{"field":"x","type":"quantitative","scale":{"domain":[0,50],"range":[178,2316],"nice":false,"zero":false},"axis":null},
"y":{"field":"y","type":"quantitative","stack":null,"scale":{"domain":[0,14000],"range":[1142,1670],"nice":false,"zero":false},"axis":null}
},
"layer":[
{"data":{"name":"gx"},"mark":{"type":"rule","color":"#555555","strokeWidth":1.5,"strokeDash":[9,18]},"encoding":{"y2":{"field":"y2"}}},
{"data":{"name":"gy"},"mark":{"type":"rule","color":"#555555","strokeWidth":1.5,"strokeDash":[18,12]},"encoding":{"x2":{"field":"x2"}}},
{"data":{"name":"xl"},"mark":{"type":"rule","color":"black","strokeWidth":1.5,"y2Offset":-8},"encoding":{"y2":{"field":"y"}}},
{"data":{"name":"xl"},"mark":{"type":"text","fontSize":26,"color":"black","dy":-38},"encoding":{"text":{"field":"t"}}},
{"data":{"name":"gy"},"mark":{"type":"rule","color":"black","strokeWidth":1.5,"x2Offset":-8},"encoding":{"x2":{"field":"x"}}},
{"data":{"name":"gy"},"mark":{"type":"text","font":"DejaVu Sans","fontSize":22,"color":"black","align":"right","dx":-20},"encoding":{"text":{"field":"y","type":"quantitative","format":"d"}}},
{"data":{"name":"ytitle_bot"},"mark":{"type":"text","fontSize":24,"color":"black","angle":270},"encoding":{"text":{"field":"t"}}},
{"data":{"name":"fill_bot"},"mark":{"type":"area","opacity":1},"encoding":{"y2":{"field":"y2"},"detail":{"field":"g","type":"nominal"},"color":{"field":"c","type":"nominal","legend":null,"scale":{"domain":["整備済み","当面の対策","整備計画","整備済み枠","当面の対策枠","整備計画枠","整備済み矢印","当面の対策矢印","整備計画矢印","遊水地矢印","整備済み凡例","当面の対策凡例","整備計画凡例"],"range":["#bfbfbf","#fcb07f","#80ff80","#d9d9d9","#ff6600","#00ff00","#a6a6a6","#fa6e1a","#22f022","#000000","#a8a8a8","#ff6600","#00ff00"]}}}},
{"data":{"name":"frame"},"mark":{"type":"rect","fillOpacity":0,"stroke":"black","strokeWidth":2},"encoding":{"x2":{"field":"x2"},"y2":{"field":"y2"}}},
{"data":{"name":"frame"},"mark":{"type":"rule","color":"black","strokeWidth":3.5},"encoding":{"y2":{"field":"y2"}}},
{"data":{"name":"plan_bot"},"mark":{"type":"line","color":"#ff0000","strokeWidth":2.5},"encoding":{}},
{"data":{"name":"dot_bot"},"mark":{"type":"line","color":"#ff0000","strokeWidth":3,"strokeDash":[5,6]},"encoding":{}},
{"data":{"name":"line_bot"},"mark":{"type":"line","color":"#00ccff","strokeWidth":5,"strokeJoin":"round"},"encoding":{}},
{"data":{"name":"muni_bot"},"mark":{"type":"rule","color":"black","strokeWidth":3},"encoding":{"x2":{"field":"x2"}}},
{"data":{"name":"muni_bot"},"mark":{"type":"point","shape":"M2,-1.1L0,0L2,1.1","size":625,"filled":false,"color":"black","strokeWidth":3,"opacity":1},"encoding":{}},
{"data":{"name":"muni_bot"},"mark":{"type":"point","shape":"M-2,-1.1L0,0L-2,1.1","size":625,"filled":false,"color":"black","strokeWidth":3,"opacity":1},"encoding":{"x":{"field":"x2","type":"quantitative","scale":{"domain":[0,50],"range":[178,2316],"nice":false,"zero":false},"axis":null}}},
{"data":{"name":"xmark_bot"},"mark":{"type":"point","shape":"M-1,-0.55L1,0.55M-1,0.55L1,-0.55","size":2704,"filled":false,"color":"black","strokeWidth":2.5,"opacity":1},"encoding":{}},
{"data":{"name":"wbox_bot"},"mark":{"type":"rect","fill":"white","stroke":"black","strokeWidth":3},"encoding":{"x2":{"field":"x2"},"y2":{"field":"y2"}}},
{"data":{"name":"cbox_bot"},"mark":{"type":"rect","opacity":1},"encoding":{"x2":{"field":"x2"},"y2":{"field":"y2"},"color":{"field":"c","type":"nominal","legend":null,"scale":{"domain":["整備済み","当面の対策","整備計画","整備済み枠","当面の対策枠","整備計画枠","整備済み矢印","当面の対策矢印","整備計画矢印","遊水地矢印","整備済み凡例","当面の対策凡例","整備計画凡例"],"range":["#bfbfbf","#fcb07f","#80ff80","#d9d9d9","#ff6600","#00ff00","#a6a6a6","#fa6e1a","#22f022","#000000","#a8a8a8","#ff6600","#00ff00"]}}}},
{"data":{"name":"arrow_bot"},"mark":{"type":"rule","strokeWidth":5},"encoding":{"x2":{"field":"x2"},"color":{"field":"c","type":"nominal","legend":null,"scale":{"domain":["整備済み","当面の対策","整備計画","整備済み枠","当面の対策枠","整備計画枠","整備済み矢印","当面の対策矢印","整備計画矢印","遊水地矢印","整備済み凡例","当面の対策凡例","整備計画凡例"],"range":["#bfbfbf","#fcb07f","#80ff80","#d9d9d9","#ff6600","#00ff00","#a6a6a6","#fa6e1a","#22f022","#000000","#a8a8a8","#ff6600","#00ff00"]}}}},
{"data":{"name":"arrow_bot"},"mark":{"type":"point","shape":"M1,-1L0,0L1,1","size":676,"filled":false,"strokeWidth":5,"strokeCap":"round","opacity":1},"encoding":{"color":{"field":"c","type":"nominal","legend":null,"scale":{"domain":["整備済み","当面の対策","整備計画","整備済み枠","当面の対策枠","整備計画枠","整備済み矢印","当面の対策矢印","整備計画矢印","遊水地矢印","整備済み凡例","当面の対策凡例","整備計画凡例"],"range":["#bfbfbf","#fcb07f","#80ff80","#d9d9d9","#ff6600","#00ff00","#a6a6a6","#fa6e1a","#22f022","#000000","#a8a8a8","#ff6600","#00ff00"]}}}},
{"data":{"name":"arrow_bot"},"mark":{"type":"point","shape":"M-1,-1L0,0L-1,1","size":676,"filled":false,"strokeWidth":5,"strokeCap":"round","opacity":1},"encoding":{"x":{"field":"x2","type":"quantitative","scale":{"domain":[0,50],"range":[178,2316],"nice":false,"zero":false},"axis":null},"color":{"field":"c","type":"nominal","legend":null,"scale":{"domain":["整備済み","当面の対策","整備計画","整備済み枠","当面の対策枠","整備計画枠","整備済み矢印","当面の対策矢印","整備計画矢印","遊水地矢印","整備済み凡例","当面の対策凡例","整備計画凡例"],"range":["#bfbfbf","#fcb07f","#80ff80","#d9d9d9","#ff6600","#00ff00","#a6a6a6","#fa6e1a","#22f022","#000000","#a8a8a8","#ff6600","#00ff00"]}}}},
{"data":{"name":"ptr_bot"},"mark":{"type":"rule","color":"black","strokeWidth":2},"encoding":{"x2":{"field":"x2"},"y2":{"field":"y2"}}},
{"data":{"name":"ptr_bot"},"mark":{"type":"point","shape":"triangle-up","size":220,"filled":true,"color":"black","opacity":1,"angle":226},"encoding":{"x":{"field":"x2","type":"quantitative","scale":{"domain":[0,50],"range":[178,2316],"nice":false,"zero":false},"axis":null},"y":{"field":"y2","type":"quantitative","scale":{"domain":[0,14000],"range":[1142,1670],"nice":false,"zero":false},"axis":null}}},
{"data":{"name":"btxt_bot"},"mark":{"type":"text","fontSize":38,"fontWeight":"bold","color":"black"},"encoding":{"text":{"field":"t"}}},
{"data":{"name":"gtxt_bot"},"mark":{"type":"text","fontSize":38,"fontWeight":"bold","color":"black","align":"left"},"encoding":{"text":{"field":"t"}}},
{"data":{"name":"mtxt_bot"},"mark":{"type":"text","fontSize":30,"color":"black"},"encoding":{"text":{"field":"t"}}},
{"data":{"name":"rtxt_bot"},"mark":{"type":"text","fontSize":28,"color":"#ff0000"},"encoding":{"text":{"field":"t"}}},
{"data":{"name":"kaoku_bot"},"mark":{"type":"text","fontSize":26,"fontWeight":"bold","color":"black","align":"left"},"encoding":{"text":{"field":"t"}}},
{"data":{"name":"hv_bot"},"mark":{"type":"rule","color":"black","strokeWidth":2.5},"encoding":{"y2":{"field":"y2"}}},
{"data":{"name":"hh_bot"},"mark":{"type":"rule","color":"black","strokeWidth":4},"encoding":{"x2":{"field":"x2"}}},
{"data":{"name":"blk_bot"},"mark":{"type":"point","shape":"M-1,-0.72L1,-0.72L1,0.72L-1,0.72Z","size":3364,"filled":true,"fill":"white","stroke":"black","strokeWidth":2.5,"opacity":1},"encoding":{}},
{"data":{"name":"blk_bot"},"mark":{"type":"text","fontSize":27,"color":"black"},"encoding":{"text":{"field":"t"}}},
{"data":{"name":"pop_bot"},"mark":{"type":"text","fontSize":35,"color":"#ff0000","align":"left"},"encoding":{"text":{"field":"t"}}}
]
}
]
}
